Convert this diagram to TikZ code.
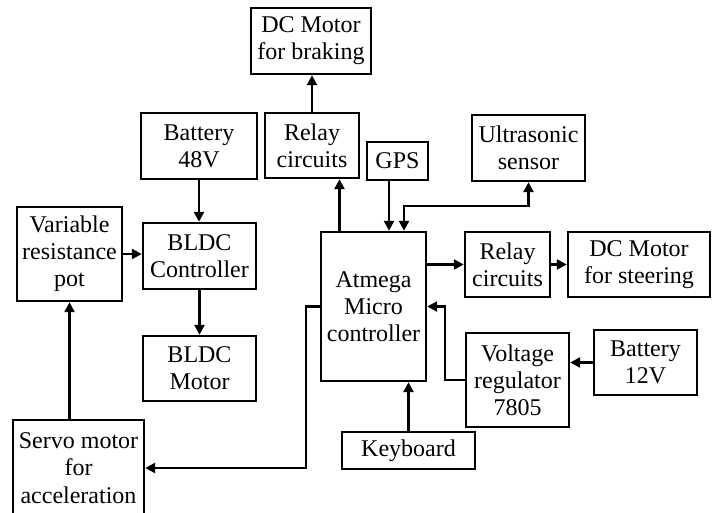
\documentclass[tikz,border=0pt]{standalone}
\usepackage{fontspec}
\setmainfont{Liberation Serif}
\usetikzlibrary{arrows.meta}
\begin{document}
\begin{tikzpicture}[x=0.5pt,y=-0.5pt,line width=1.2pt,
  every node/.style={font=\fontsize{12}{13.6}\selectfont},
  blk/.style={draw,align=center,inner sep=1pt},
  arr/.style={-{Triangle[length=5pt,width=5pt]}},
  arrb/.style={{Triangle[length=5pt,width=5pt]}-{Triangle[length=5pt,width=5pt]}}]
\useasboundingbox (0,0) rectangle (718,513);
\node[blk,minimum width=60pt,minimum height=33pt] (brake) at (311,41) {DC Motor\\for braking};
\node[blk,minimum width=58pt,minimum height=33pt] (batt48) at (199,146) {Battery\\48V};
\node[blk,minimum width=47pt,minimum height=32.5pt] (relayb) at (312,145.5) {Relay\\circuits};
\node[blk,minimum width=30.5pt,minimum height=19pt] (gps) at (397.5,161) {GPS};
\node[blk,minimum width=56.5pt,minimum height=33pt] (ultra) at (528.5,148) {Ultrasonic\\sensor};
\node[blk,minimum width=52.5pt,minimum height=47pt] (pot) at (69.5,254) {Variable\\resistance\\pot};
\node[blk,minimum width=56.5pt,minimum height=33pt] (bldcc) at (199.5,256) {BLDC\\Controller};
\node[blk,minimum width=56.5pt,minimum height=32.5pt] (bldcm) at (199.5,368.5) {BLDC\\Motor};
\node[blk,minimum width=52.5pt,minimum height=74.5pt] (atmega) at (373.5,306.5) {Atmega\\Micro\\controller};
\node[blk,minimum width=42.5pt,minimum height=32.5pt] (relays) at (507.5,264.5) {Relay\\circuits};
\node[blk,minimum width=71pt,minimum height=32.5pt] (steer) at (639,264.5) {DC Motor\\for steering};
\node[blk,minimum width=51.5pt,minimum height=47pt] (volt) at (517.5,380) {Voltage\\regulator\\7805};
\node[blk,minimum width=51.5pt,minimum height=32.5pt] (batt12) at (645.5,362.5) {Battery\\12V};
\node[blk,minimum width=66.5pt,minimum height=18.5pt] (keyb) at (408.5,450.5) {Keyboard};
\node[blk,minimum width=65.5pt,minimum height=48pt] (servo) at (78.5,468) {Servo motor\\for\\acceleration};
% connectors
\draw[arr] (batt48.south) -- (bldcc.north -| batt48.south);
\draw[arr] (bldcc.south) -- (bldcm.north);
\draw[arr] (pot.east) -- (pot.east -| bldcc.west);
\draw[arr] (servo.north -| pot.south) -- (pot.south);
\draw[arr] (atmega.west) -- ++(-7pt,0) |- (servo.east);
\draw[arr] (relayb.north) -- (relayb.north |- brake.south);
\draw[arr] ([xshift=-17pt]atmega.north) -- ([xshift=-17pt]atmega.north |- relayb.south);
\draw[arr] ([xshift=-4.25pt]gps.south) -- ([xshift=-4.25pt]gps.south |- atmega.north);
\draw[arrb] ([xshift=15.25pt]atmega.north) -- ++(0,12.5pt) -| (ultra.south);
\draw[arr] (atmega.east |- relays.west) -- (relays.west);
\draw[arr] (relays.east) -- (steer.west);
\draw[arr] (batt12.west) -- (batt12.west -| volt.east);
\draw[arr] (volt.west) -- ++(-10pt,0) |- (atmega.east);
\draw[arr] (keyb.north) -- (keyb.north |- atmega.south);
\end{tikzpicture}
\end{document}
